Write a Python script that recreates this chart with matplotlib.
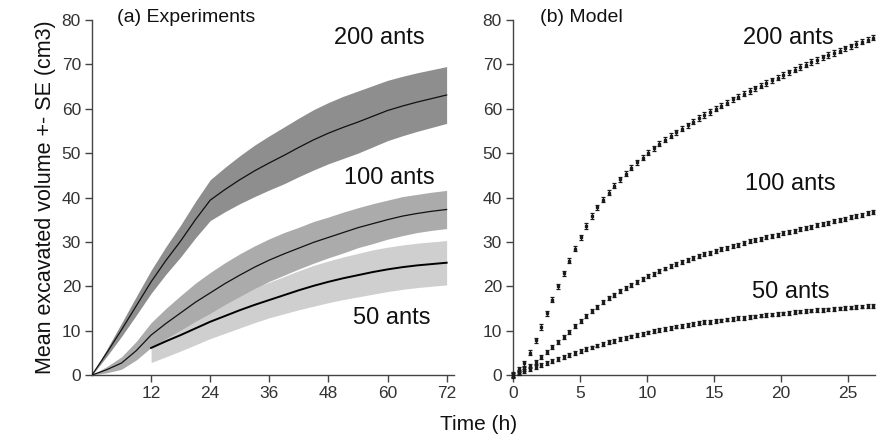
import matplotlib
matplotlib.use("Agg")
import matplotlib.pyplot as plt
import numpy as np

plt.rcParams['font.family'] = ['Liberation Sans', 'DejaVu Sans']

# ---------------- (a) Experiments ----------------
exp_time = [0, 3, 6, 9, 12, 15, 18, 21, 24, 27, 30, 33, 36, 39, 42, 45, 48, 51, 54, 57, 60, 63, 66, 69, 72]
exp_200_mean = [0, 5.0, 10.2, 15.6, 21.0, 25.8, 30.2, 35.0, 39.4, 41.8, 44.0, 46.0, 47.8, 49.5, 51.3, 53.0,
                54.5, 55.8, 57.0, 58.3, 59.6, 60.6, 61.5, 62.3, 63.1]
exp_200_se = [0, 0.8, 1.5, 2.1, 2.6, 3.1, 3.6, 4.1, 4.6, 5.0, 5.4, 5.8, 6.1, 6.4, 6.6, 6.8, 6.9, 7.0, 7.0,
              6.9, 6.8, 6.7, 6.6, 6.5, 6.4]
exp_100_mean = [0, 1.2, 2.7, 5.5, 9.0, 11.6, 14.0, 16.4, 18.5, 20.6, 22.5, 24.3, 25.9, 27.3, 28.6, 29.9,
                31.0, 32.1, 33.2, 34.1, 35.0, 35.8, 36.4, 36.9, 37.3]
exp_100_se = [0, 0.7, 1.4, 2.1, 2.8, 3.4, 3.9, 4.3, 4.6, 4.7, 4.8, 4.8, 4.8, 4.8, 4.7, 4.7, 4.6, 4.6, 4.5,
              4.5, 4.4, 4.4, 4.3, 4.3, 4.3]
exp_50_time = [12, 15, 18, 21, 24, 27, 30, 33, 36, 39, 42, 45, 48, 51, 54, 57, 60, 63, 66, 69, 72]
exp_50_mean = [6.1, 7.6, 9.0, 10.5, 12.0, 13.3, 14.6, 15.8, 16.9, 18.0, 19.1, 20.1, 21.0, 21.8, 22.5, 23.2,
               23.8, 24.3, 24.7, 25.0, 25.3]
exp_50_se = [3.3, 3.5, 3.6, 3.7, 3.8, 3.9, 4.0, 4.0, 4.0, 4.2, 4.4, 4.6, 4.7, 4.8, 4.9, 5.0, 5.0, 5.0, 5.0,
             5.0, 5.0]

# ---------------- (b) Model ----------------
model_time = [0.00, 0.42, 0.84, 1.26, 1.68, 2.10, 2.52, 2.94, 3.36, 3.78, 4.20, 4.62, 5.04, 5.46, 5.88,
              6.30, 6.72, 7.14, 7.56, 7.98, 8.40, 8.82, 9.24, 9.66, 10.08, 10.50, 10.92, 11.34, 11.76,
              12.18, 12.60, 13.02, 13.44, 13.86, 14.28, 14.70, 15.12, 15.54, 15.96, 16.38, 16.80, 17.22,
              17.64, 18.06, 18.48, 18.90, 19.32, 19.74, 20.16, 20.58, 21.00, 21.42, 21.84, 22.26, 22.68,
              23.10, 23.52, 23.94, 24.36, 24.78, 25.20, 25.62, 26.04, 26.46, 26.88]
model_200 = [0, 1.3, 2.6, 5.0, 7.8, 10.8, 13.9, 17.0, 20.0, 22.9, 25.8, 28.5, 31.0, 33.6, 35.8, 37.8, 39.5,
             41.1, 42.7, 44.1, 45.4, 46.7, 47.9, 49.0, 50.1, 51.1, 52.1, 53.0, 53.9, 54.7, 55.5, 56.3, 57.1,
             57.9, 58.6, 59.3, 60.0, 60.7, 61.4, 62.1, 62.7, 63.4, 64.0, 64.6, 65.2, 65.8, 66.4, 67.0, 67.6,
             68.2, 68.8, 69.4, 69.9, 70.5, 71.0, 71.6, 72.1, 72.6, 73.1, 73.6, 74.1, 74.6, 75.1, 75.6, 76.0]
model_100 = [0, 0.6, 1.3, 2.1, 3.0, 4.1, 5.1, 6.2, 7.4, 8.6, 9.8, 11.0, 12.2, 13.3, 14.4, 15.4, 16.4, 17.3,
             18.1, 18.9, 19.6, 20.3, 21.0, 21.6, 22.2, 22.8, 23.4, 24.0, 24.5, 25.0, 25.5, 26.0, 26.4, 26.8,
             27.2, 27.6, 28.0, 28.4, 28.7, 29.1, 29.4, 29.8, 30.1, 30.4, 30.7, 31.0, 31.3, 31.6, 31.9, 32.2,
             32.5, 32.8, 33.1, 33.4, 33.7, 34.0, 34.3, 34.6, 34.9, 35.2, 35.5, 35.8, 36.1, 36.4, 36.7]
model_50 = [0, 0.4, 0.9, 1.3, 1.8, 2.2, 2.7, 3.1, 3.6, 4.1, 4.5, 5.0, 5.4, 5.8, 6.2, 6.6, 7.0, 7.4, 7.7,
            8.1, 8.4, 8.7, 9.0, 9.3, 9.6, 9.9, 10.1, 10.4, 10.6, 10.9, 11.1, 11.3, 11.5, 11.7, 11.9, 12.0,
            12.2, 12.3, 12.5, 12.6, 12.8, 12.9, 13.1, 13.2, 13.4, 13.5, 13.6, 13.8, 13.9, 14.0, 14.2, 14.3,
            14.4, 14.5, 14.6, 14.7, 14.8, 14.9, 15.0, 15.1, 15.2, 15.3, 15.4, 15.5, 15.6]
model_se_200 = 0.6
model_se_100 = 0.45
model_se_50 = 0.4

labels = ["200 ants", "100 ants", "50 ants"]
exp_ticks = [12, 24, 36, 48, 60, 72]
model_ticks = [0, 5, 10, 15, 20, 25]
y_ticks = [0, 10, 20, 30, 40, 50, 60, 70, 80]

W, H = 895, 445
fig = plt.figure(figsize=(W / 100, H / 100), dpi=100)
axL = fig.add_axes([92 / W, 70 / H, 362 / W, 355 / H])
axR = fig.add_axes([513 / W, 70 / H, 362 / W, 355 / H])

axis_col = '#444444'
tick_col = '#333333'
for ax in (axL, axR):
    ax.spines['top'].set_visible(False)
    ax.spines['right'].set_visible(False)
    for s in ('left', 'bottom'):
        ax.spines[s].set_color(axis_col)
        ax.spines[s].set_linewidth(1.0)
    ax.set_ylim(0, 80)
    ax.set_yticks(y_ticks)
    ax.tick_params(axis='both', direction='out', length=5, width=1.0, color=axis_col,
                   labelsize=12.5, labelcolor=tick_col, pad=3)

# --- experiments ---
axL.fill_between(exp_50_time, np.array(exp_50_mean) - np.array(exp_50_se),
                 np.array(exp_50_mean) + np.array(exp_50_se), color='#cfcfcf', lw=0, zorder=1)
axL.fill_between(exp_time, np.array(exp_100_mean) - np.array(exp_100_se),
                 np.array(exp_100_mean) + np.array(exp_100_se), color='#ababab', lw=0, zorder=2)
axL.fill_between(exp_time, np.array(exp_200_mean) - np.array(exp_200_se),
                 np.array(exp_200_mean) + np.array(exp_200_se), color='#8e8e8e', lw=0, zorder=3)
axL.plot(exp_50_time, exp_50_mean, color='black', lw=1.4, zorder=4)
axL.plot(exp_time, exp_100_mean, color='#111111', lw=0.9, zorder=4)
axL.plot(exp_time, exp_200_mean, color='#111111', lw=0.9, zorder=4)
axL.set_xlim(0, 73.5)
axL.set_xticks(exp_ticks)
axL.set_ylabel("Mean excavated volume +- SE (cm3)", fontsize=15.5, color='#111111', labelpad=4)

axL.text(58.4, 76, labels[0], fontsize=17, ha='center', va='center', color='#111111')
axL.text(60.4, 44.4, labels[1], fontsize=17, ha='center', va='center', color='#111111')
axL.text(60.8, 12.8, labels[2], fontsize=17, ha='center', va='center', color='#111111')
axL.text(0.069, 1.008, "(a) Experiments", transform=axL.transAxes, fontsize=14,
         ha='left', va='center', color='#111111')

# --- model ---
for vals, se in ((model_200, model_se_200), (model_100, model_se_100), (model_50, model_se_50)):
    axR.errorbar(model_time, vals, yerr=se, fmt='s', ms=1.8, color='#1a1a1a', mec='#1a1a1a',
                 mfc='#1a1a1a', ecolor='#1a1a1a', elinewidth=0.9, capsize=1.5, capthick=0.9,
                 clip_on=False, zorder=3)
axR.set_xlim(0, 27)
axR.set_xticks(model_ticks)
axR.text(20.5, 76.0, labels[0], fontsize=17, ha='center', va='center', color='#111111')
axR.text(20.7, 43.0, labels[1], fontsize=17, ha='center', va='center', color='#111111')
axR.text(20.7, 18.7, labels[2], fontsize=17, ha='center', va='center', color='#111111')
axR.text(0.075, 1.008, "(b) Model", transform=axR.transAxes, fontsize=14,
         ha='left', va='center', color='#111111')

fig.text(479 / W, 1 - 424 / H, "Time (h)", fontsize=15, ha='center', va='center', color='#111111')

fig.savefig("out.png", dpi=100)
